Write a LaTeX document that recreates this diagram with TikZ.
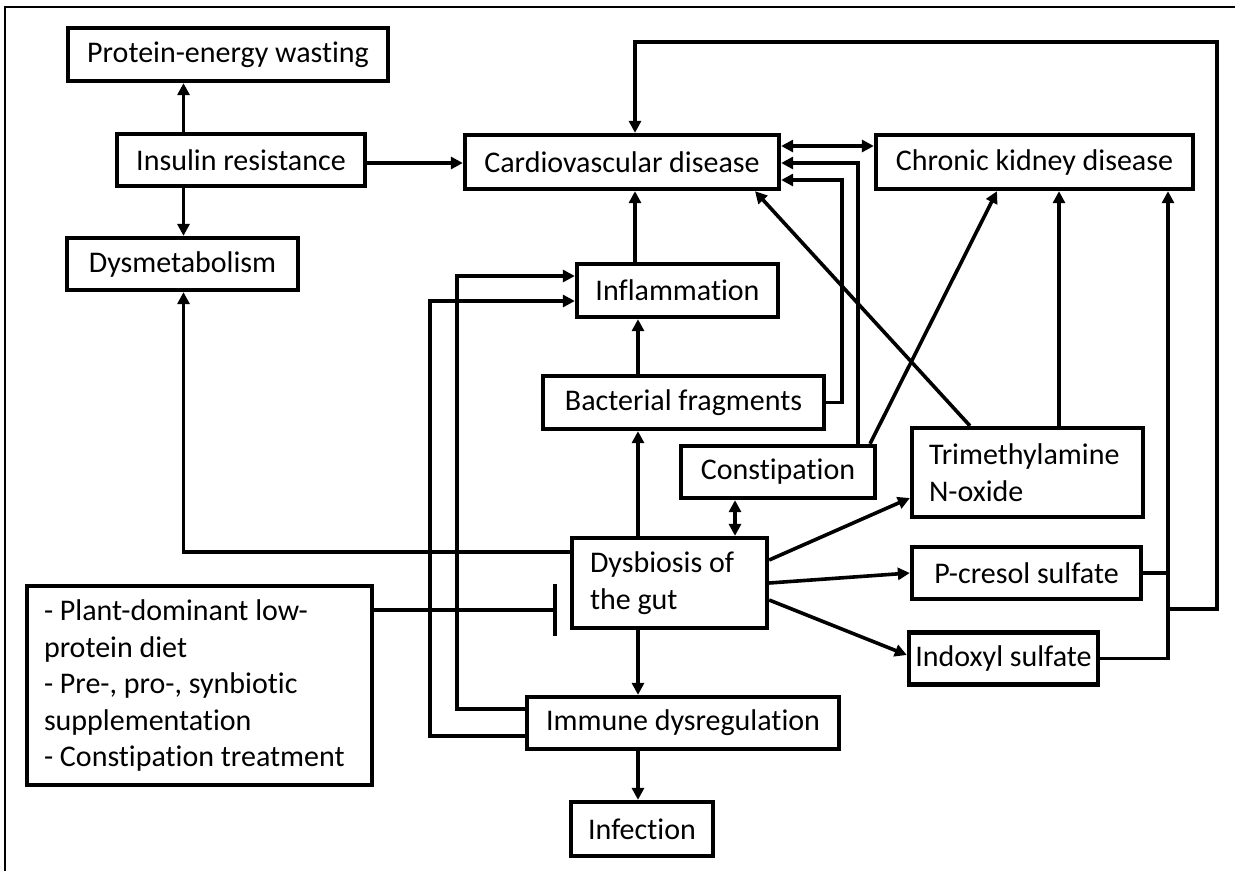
\documentclass[tikz,border=0pt]{standalone}
\usepackage{fontspec}
\setmainfont{Carlito}[Ligatures=NoCommon]
\usetikzlibrary{arrows.meta}
\begin{document}
\begin{tikzpicture}[x=1pt,y=-1pt,
  box/.style={draw, line width=4.3pt, inner sep=0pt, font=\fontsize{30}{36.5}\selectfont},
  multi/.style={align=left, execute at begin node={\spaceskip=\fontdimen2\font\relax\xspaceskip=\fontdimen2\font\relax}},
  arr/.style={line width=3.6pt, -{Triangle[length=12pt,width=12pt]}},
  dbl/.style={line width=3.6pt, {Triangle[length=12pt,width=12pt]}-{Triangle[length=12pt,width=12pt]}},
  ln/.style={line width=3.6pt},
  inh/.style={line width=3.6pt, -{Bar[width=52pt,line width=4.3pt]}}]
\useasboundingbox (0,0) rectangle (1235,871);
% outer frame (top and left edges)
\draw[line width=1.6pt] (5,871) -- (5,7) -- (1235,7);

% nodes
\node[box, minimum width=320pt, minimum height=53pt] (pew) at (228,54.5) {Protein-energy wasting};
\node[box, minimum width=248pt, minimum height=52pt] (ins) at (241,160) {Insulin resistance};
\node[box, minimum width=231pt, minimum height=52pt] (dysm) at (182.5,264) {Dysmetabolism};
\node[box, minimum width=314pt, minimum height=54pt] (cvd) at (622,162) {Cardiovascular disease};
\node[box, minimum width=317pt, minimum height=54pt] (ckd) at (1034.5,162) {Chronic kidney disease};
\node[box, minimum width=201pt, minimum height=53pt] (infl) at (677.5,290.5) {Inflammation};
\node[box, minimum width=281pt, minimum height=53pt] (bf) at (683.5,402.5) {Bacterial fragments};
\node[box, minimum width=194pt, minimum height=52pt] (cons) at (778,472) {Constipation};
\node[box, multi, minimum width=231pt, minimum height=89pt, text width=197pt, inner xsep=17pt] (tmao) at (1027.5,472.5) {Trimethylamine\\N-oxide};
\node[box, multi, minimum width=195pt, minimum height=90pt, text width=159pt, inner xsep=18pt] (dys) at (669.5,583) {Dysbiosis of\\the gut};
\node[box, minimum width=229pt, minimum height=52pt] (pcs) at (1026.5,573) {P-cresol sulfate};
\node[box, minimum width=189pt, minimum height=52pt] (ind) at (1003.5,658.5) {Indoxyl sulfate};
\node[box, multi, minimum width=345pt, minimum height=199pt, text width=311pt, inner xsep=17pt] (treat) at (199.5,685.5) {- Plant-dominant low-\\protein diet\\- Pre-, pro-, synbiotic\\supplementation\\- Constipation treatment};
\node[box, minimum width=312pt, minimum height=52pt] (imm) at (683,723) {Immune dysregulation};
\node[box, minimum width=142pt, minimum height=54pt] (inf) at (642,829) {Infection};

% helper coordinates
\coordinate (xA) at (183.5,0);
\coordinate (x430) at (430,0);
\coordinate (x457) at (457,0);
\coordinate (x635) at (635,0);
\coordinate (x638) at (638,0);
\coordinate (x735) at (735,0);
\coordinate (x755) at (755,0);
\coordinate (x842) at (842,0);
\coordinate (x858) at (858,0);
\coordinate (x870) at (870,0);
\coordinate (x970) at (970,0);
\coordinate (x997) at (997,0);
\coordinate (x1059) at (1059,0);
\coordinate (x1168) at (1168,0);
\coordinate (y146) at (0,146);
\coordinate (y163) at (0,163);
\coordinate (y180) at (0,180);
\coordinate (y276) at (0,276);
\coordinate (y301) at (0,301);
\coordinate (y498) at (0,498);
\coordinate (y552) at (0,552);
\coordinate (y560) at (0,560);
\coordinate (y600) at (0,600);
\coordinate (y610) at (0,610);
\coordinate (y655) at (0,655);
\coordinate (y709) at (0,709);
\coordinate (y736) at (0,736);
\coordinate (j1) at (1168,609);
\coordinate (j2) at (1217,609);
\coordinate (j3) at (1217,42);
\coordinate (j4) at (635,42);

% connectors
\draw[arr] (ins.north -| xA) -- (pew.south -| xA);
\draw[arr] (ins.south -| xA) -- (dysm.north -| xA);
\draw[arr] (ins.east |- y163) -- (cvd.west |- y163);
\draw[dbl] (cvd.east |- y146) -- (ckd.west |- y146);
\draw[arr] (j1) -- (j2) -- (j3) -- (j4) -- (cvd.north -| j4);
\draw[arr] (cons.north -| x858) -- (x858 |- y163) -- (cvd.east |- y163);
\draw[arr] (bf.east) -- (bf.east -| x842) -- (x842 |- y180) -- (cvd.east |- y180);
\draw[arr] (cons.north -| x870) -- (ckd.south -| x997);
\draw[arr] (tmao.north -| x970) -- (cvd.south -| x755);
\draw[arr] (tmao.north -| x1059) -- (ckd.south -| x1059);
\draw[arr] (pcs.east) -- (pcs.east -| x1168) -- (ckd.south -| x1168);
\draw[ln] (ind.east) -- (ind.east -| x1168) -- (pcs.east -| x1168);
\draw[arr] (dys.east |- y560) -- (tmao.west |- y498);
\draw[arr] (dys.east) -- (pcs.west);
\draw[arr] (dys.east |- y600) -- (ind.west |- y655);
\draw[arr] (dys.north -| x638) -- (bf.south -| x638);
\draw[arr] (bf.north -| x638) -- (infl.south -| x638);
\draw[arr] (infl.north -| x635) -- (cvd.south -| x635);
\draw[dbl] (dys.north -| x735) -- (cons.south -| x735);
\draw[arr] (dys.west |- y552) -| (dysm.south -| xA);
\draw[arr] (dys.south -| x638) -- (imm.north -| x638);
\draw[arr] (imm.south -| x638) -- (inf.north -| x638);
\draw[arr] (imm.west |- y709) -| (x457 |- y276) -- (infl.west |- y276);
\draw[arr] (imm.west |- y736) -| (x430 |- y301) -- (infl.west |- y301);
\draw[inh, shorten >=13pt] (treat.east |- y610) -- (dys.west |- y610);
\end{tikzpicture}
\end{document}
